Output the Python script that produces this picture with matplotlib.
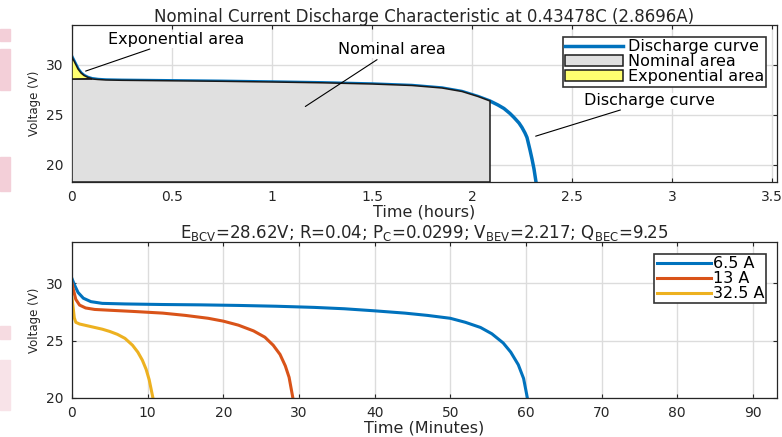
import matplotlib
matplotlib.use('Agg')
import matplotlib.pyplot as plt
from matplotlib.patches import Rectangle
import numpy as np

# top panel: nominal discharge (hours, volts)
t_nom = [0, 0.01, 0.02, 0.03, 0.045, 0.06, 0.08, 0.1, 0.13, 0.17, 0.25, 0.5, 0.75,
         1.0, 1.25, 1.5, 1.7, 1.85, 1.95, 2.03, 2.09, 2.13, 2.16, 2.19, 2.21, 2.235,
         2.25, 2.265, 2.275, 2.29, 2.30, 2.31, 2.32]
v_nom = [30.8, 30.4, 30.0, 29.6, 29.2, 28.95, 28.75, 28.63, 28.55, 28.5, 28.47, 28.42,
         28.37, 28.3, 28.22, 28.1, 27.95, 27.7, 27.35, 26.85, 26.4, 26.0, 25.65, 25.15,
         24.75, 24.2, 23.75, 23.2, 22.75, 21.5, 20.6, 19.6, 18.3]
t_exp_end = 0.1
v_exp = 28.6
t_nom_end = 2.09

# bottom panel: discharge at several currents (minutes, volts)
t_65 = [0, 0.3, 0.8, 1.5, 2.5, 4, 7, 12, 17, 22, 27, 32, 36, 40, 44, 47, 50, 52, 54,
        55.5, 57, 58, 59, 59.7, 60.2]
v_65 = [30.4, 29.9, 29.2, 28.7, 28.4, 28.25, 28.2, 28.15, 28.12, 28.07, 28.0, 27.9,
        27.78, 27.6, 27.4, 27.2, 26.95, 26.6, 26.15, 25.6, 24.8, 24.0, 22.9, 21.7, 20.0]
t_13 = [0, 0.2, 0.5, 1, 1.8, 3, 5, 8, 12, 15, 18, 20, 22, 24, 25.5, 26.6, 27.5, 28.2,
        28.7, 29.2]
v_13 = [30.0, 29.4, 28.6, 28.1, 27.85, 27.72, 27.65, 27.55, 27.4, 27.2, 26.95, 26.7,
        26.35, 25.85, 25.3, 24.6, 23.8, 22.8, 21.8, 20.0]
t_325 = [0, 0.15, 0.3, 0.5, 1, 2, 3, 4, 5, 6, 7, 8, 8.7, 9.3, 9.8, 10.2, 10.7]
v_325 = [28.7, 27.9, 27.0, 26.6, 26.45, 26.3, 26.15, 26.0, 25.8, 25.55, 25.2, 24.6,
         24.0, 23.3, 22.5, 21.6, 20.0]

blue = '#0072BD'
red = '#D95319'
yel = '#EDB120'
ink = '#262626'

fig = plt.figure(figsize=(7.82, 4.37), dpi=100)

# pink scraps on the left edge of the screenshot
for (y0, h, c) in [(29, 12, '#f3cfd8'), (49, 41, '#f3cfd8'), (157, 34, '#f3cfd8'),
                   (326, 13, '#f6dbe1'), (360, 50, '#f8e3e8')]:
    fig.patches.append(Rectangle((0, 1 - (y0 + h) / 437), 10 / 782, h / 437,
                                 transform=fig.transFigure, color=c, zorder=0))


def style(ax):
    ax.grid(True, color='#dcdcdc', lw=1)
    ax.set_axisbelow(True)
    ax.tick_params(direction='in', top=True, right=True, length=3, width=0.8,
                   labelsize=10, colors=ink, pad=6)
    for s in ax.spines.values():
        s.set_color(ink)
        s.set_linewidth(0.9)


ax1 = fig.add_axes([72 / 782, 1 - 182 / 437, 705 / 782, 157 / 437])
style(ax1)
ax1.set_xlim(0, 3.525)
ax1.set_ylim(18.3, 34)
ylo = 18.3

t = np.array(t_nom)
v = np.array(v_nom)
ax1.plot(t, v, color=blue, lw=2.5, zorder=2, label='Discharge curve')

m = t <= t_nom_end
gx = np.concatenate([[0], t[m], [t_nom_end, t_nom_end]])
gy = np.concatenate([[ylo], np.minimum(v[m], v_exp), [np.interp(t_nom_end, t, v), ylo]])
ax1.fill(gx, gy, facecolor='#e0e0e0', edgecolor='#1a1a1a', lw=1.1, zorder=3,
         label='Nominal area')
me = t <= t_exp_end
ex = np.concatenate([t[me], [0]])
ey = np.concatenate([v[me], [v_exp]])
ax1.fill(ex, ey, facecolor='#ffff70', edgecolor='#1a1a1a', lw=1.1, zorder=3,
         label='Exponential area')

ax1.set_xticks(np.arange(0, 3.6, 0.5))
ax1.set_xticklabels(['0', '0.5', '1', '1.5', '2', '2.5', '3', '3.5'])
ax1.set_yticks([20, 25, 30])
ax1.set_xlabel('Time (hours)', fontsize=11.5, color=ink, labelpad=0)
ax1.set_ylabel('Voltage (V)', fontsize=8.5, color=ink, labelpad=4)
ax1.set_title('Nominal Current Discharge Characteristic at 0.43478C (2.8696A)',
              fontsize=12, color=ink, pad=2)

box = dict(facecolor='white', edgecolor='none', pad=0.5)
arr = dict(arrowstyle='-', color='k', lw=0.8)
ax1.annotate('Exponential area', xy=(0.055, 29.3), xytext=(0.18, 32.5), fontsize=11.5,
             va='center', ha='left', bbox=box, arrowprops=arr, zorder=5)
ax1.annotate('Nominal area', xy=(1.155, 25.7), xytext=(1.33, 31.5), fontsize=11.5,
             va='center', ha='left', bbox=box, arrowprops=arr, zorder=5)
ax1.annotate('Discharge curve', xy=(2.305, 22.8), xytext=(2.56, 26.4), fontsize=11.5,
             va='center', ha='left', bbox=box, arrowprops=arr, zorder=5)

leg = ax1.legend(loc='upper right', bbox_to_anchor=(0.985, 0.925), fontsize=11.5,
                 frameon=True, fancybox=False, framealpha=1, edgecolor='#333333',
                 borderpad=0.15, labelspacing=0.0, handlelength=3.6, handletextpad=0.3,
                 borderaxespad=0)
leg.get_frame().set_linewidth(1.2)

ax2 = fig.add_axes([72 / 782, 1 - 398 / 437, 705 / 782, 156 / 437])
style(ax2)
ax2.plot(t_65, v_65, color=blue, lw=2.2, label='6.5 A')
ax2.plot(t_13, v_13, color=red, lw=2.2, label='13 A')
ax2.plot(t_325, v_325, color=yel, lw=2.2, label='32.5 A')
ax2.set_xlim(0, 93.2)
ax2.set_ylim(20, 33.6)
ax2.set_xticks(np.arange(0, 91, 10))
ax2.set_yticks([20, 25, 30])
ax2.set_xlabel('Time (Minutes)', fontsize=11.5, color=ink, labelpad=0)
ax2.set_ylabel('Voltage (V)', fontsize=8.5, color=ink, labelpad=4)
ax2.set_title(r'E$_{\mathrm{BCV}}$=28.62V; R=0.04; P$_{\mathrm{C}}$=0.0299; '
              r'V$_{\mathrm{BEV}}$=2.217; Q$_{\mathrm{BEC}}$=9.25',
              fontsize=12, color=ink, pad=3)
leg2 = ax2.legend(loc='upper right', bbox_to_anchor=(0.985, 0.925), fontsize=11.5,
                  frameon=True, fancybox=False, framealpha=1, edgecolor='#333333',
                  borderpad=0.15, labelspacing=0.0, handlelength=3.4, handletextpad=0.1,
                  borderaxespad=0)
leg2.get_frame().set_linewidth(1.2)

fig.savefig('out.png', dpi=100)
